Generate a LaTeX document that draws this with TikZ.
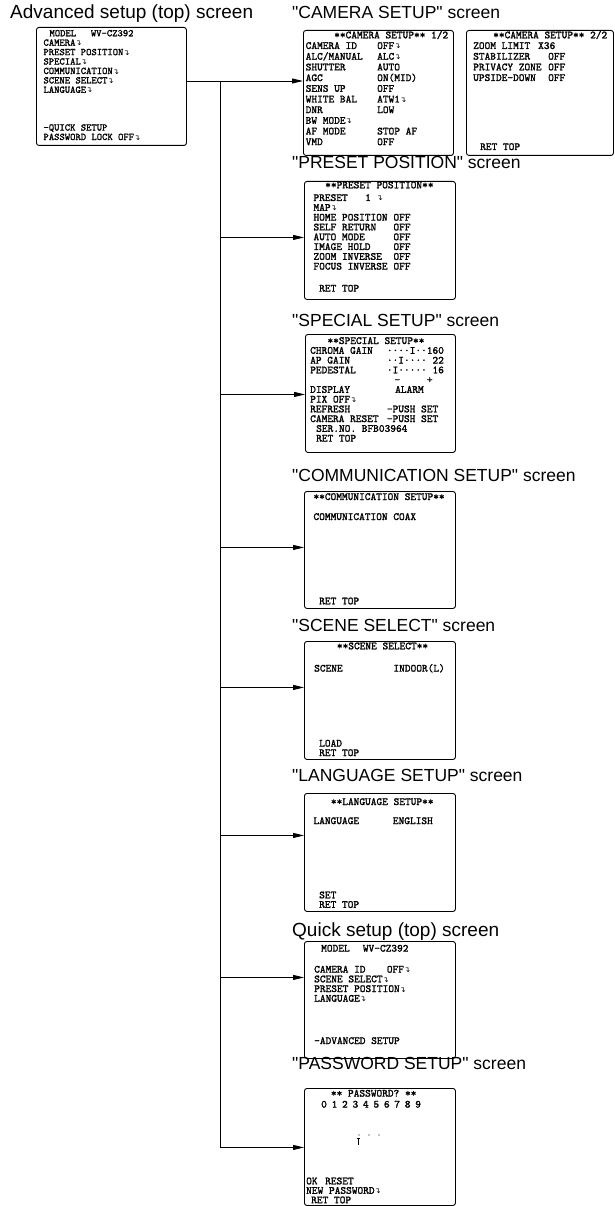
\documentclass[tikz,border=0pt]{standalone}
\usepackage{fontspec}
\setmainfont{Liberation Sans}[Ligatures=TeXOff]
\newfontfamily\symfont{DejaVu Sans}
\newfontfamily\osdfont{Latin Modern Mono}[FakeBold=1.6]
\usetikzlibrary{arrows.meta}
\newcommand{\ent}{{\symfont\fontsize{7.5}{7.5}\selectfont ↴}}
\newcommand{\lab}[2]{\makebox[#1pt][l]{#2}}
\newcommand{\osd}[2]{\osdfont\fontsize{#1}{#2}\selectfont}
\newcommand{\rows}[1]{\begin{tabular}[t]{@{}l@{}}#1\end{tabular}}
\begin{document}
\begin{tikzpicture}[x=1pt,y=-1pt,line join=round,>={Triangle[length=11pt,width=5pt]}]
\tikzset{screen/.style={draw,line width=0.9pt,rounded corners=2.5pt,inner sep=0pt,anchor=north west,minimum width=151pt,minimum height=118pt},
  osd/.style={anchor=base west,inner sep=0pt,font=\osd{10.86}{#1}},
  osd/.default=9.75,
  ttl/.style={anchor=base west,inner sep=0pt,font=\fontsize{17.5}{17.5}\selectfont}}
\useasboundingbox (0,0) rectangle (615,1206);
\node[ttl,font=\fontsize{19}{19}\selectfont] (tAdv) at (10,18.3) {Advanced setup (top) screen};
\node[ttl] (tCam) at (292,18.3) {"CAMERA SETUP" screen};
\node[ttl] (tPreset) at (292,168.3) {"PRESET POSITION" screen};
\node[ttl] (tSpecial) at (292,326) {"SPECIAL SETUP" screen};
\node[ttl] (tComm) at (292,481.7) {"COMMUNICATION SETUP" screen};
\node[ttl] (tScene) at (292,631.7) {"SCENE SELECT" screen};
\node[ttl] (tLang) at (292,781.7) {"LANGUAGE SETUP" screen};
\node[ttl,font=\fontsize{19}{19}\selectfont] (tQuick) at (292,936.7) {Quick setup (top) screen};
\node[ttl] (tPwd) at (292,1069) {"PASSWORD SETUP" screen};
\node[screen,minimum width=150pt] (adv) at (36,27) {};
\node[screen,minimum width=150pt,minimum height=125pt] (camA) at (303,30) {};
\node[screen,minimum width=147pt,minimum height=125pt] (camB) at (466,30) {};
\node[screen] (preset) at (304,181) {};
\node[screen,minimum width=150pt] (special) at (305,334) {};
\node[screen,minimum height=117pt] (comm) at (304,491) {};
\node[screen] (scene) at (304,641) {};
\node[screen] (lang) at (304,793) {};
\node[screen,minimum height=117pt] (quick) at (304,941) {};
\node[screen,minimum height=117pt] (pwd) at (304,1088) {};
\node[osd,font=\osd{10.15}{9.43}] (advText) at (43.3,36.3) {\rows{\hspace*{6pt}\lab{41.4}{MODEL}WV-CZ392\\
  CAMERA\ent\\ PRESET POSITION\ent\\ SPECIAL\ent\\ COMMUNICATION\ent\\ SCENE SELECT\ent\\ LANGUAGE\ent\\
  \\ \\ \\ –QUICK SETUP\\ PASSWORD LOCK OFF\ent}};
\node[osd=10.67] (camAText) at (305.5,38.3) {\rows{\hspace*{28.5pt}**CAMERA SETUP** 1/2\\
  \lab{71.5}{CAMERA ID}OFF\ent\\ \lab{71.5}{ALC/MANUAL}ALC\ent\\ \lab{71.5}{SHUTTER}AUTO\\
  \lab{71.5}{AGC}ON(MID)\\ \lab{71.5}{SENS UP}OFF\\ \lab{71.5}{WHITE BAL}ATW1\ent\\
  \lab{71.5}{DNR}LOW\\ BW MODE\ent\\ \lab{71.5}{AF MODE}STOP AF\\ \lab{71.5}{VMD}OFF}};
\node[osd=10.67] (camBText) at (473,38.3) {\rows{\hspace*{20pt}**CAMERA SETUP** 2/2\\
  \lab{65}{ZOOM LIMIT}X36\\ \lab{75}{STABILIZER}OFF\\ \lab{75}{PRIVACY ZONE}OFF\\ \lab{75}{UPSIDE-DOWN}OFF}};
\node[osd] (camBRet) at (480,150) {RET TOP};
\node[osd=9.8] (presetText) at (313.3,188.3) {\rows{\hspace*{11.7pt}**PRESET POSITION**\\[2.9pt]
  \lab{51.7}{PRESET}1 \ent\\ MAP\ent\\ \lab{80}{HOME POSITION}OFF\\ \lab{80}{SELF RETURN}OFF\\
  \lab{80}{AUTO MODE}OFF\\ \lab{80}{IMAGE HOLD}OFF\\ \lab{80}{ZOOM INVERSE}OFF\\ \lab{80}{FOCUS INVERSE}OFF}};
\node[osd] (presetRet) at (319,291.6) {RET TOP};
\node[osd=9.76] (specialText) at (310,344) {\rows{\hspace*{17.3pt}**SPECIAL SETUP**\\
  \lab{76.7}{CHROMA GAIN}····I··160\\ \lab{76.7}{AP GAIN}··I···· 22\\ \lab{76.7}{PEDESTAL}·I····· 16\\
  \hspace*{84.3pt}\lab{32.4}{–}+\\ \lab{85}{DISPLAY}ALARM\\ PIX OFF\ent\\
  \lab{76.7}{REFRESH}–PUSH SET\\ \lab{76.7}{CAMERA RESET}–PUSH SET\\
  \hspace*{6pt}SER.NO. BFB03964\\ \hspace*{6pt}RET TOP}};
\node[osd=10] (commText) at (313.3,500) {\rows{**COMMUNICATION SETUP**\\ \\ COMMUNICATION COAX}};
\node[osd] (commRet) at (319,604.3) {RET TOP};
\node[osd=11.15] (sceneText) at (314,649.3) {\rows{\hspace*{22.7pt}**SCENE SELECT**\\ \\ \lab{79.3}{SCENE}INDOOR(L)}};
\node[osd=9] (sceneLoad) at (319,746.6) {\rows{LOAD\\ RET TOP}};
\node[osd=9.5] (langText) at (313.3,805) {\rows{\hspace*{17.4pt}**LANGUAGE SETUP**\\ \\ \lab{79.4}{LANGUAGE}ENGLISH}};
\node[osd=9.3] (langSet) at (319,898.3) {\rows{SET\\ RET TOP}};
\node[osd=9.7] (quickText) at (314,951.6) {\rows{\hspace*{7pt}\lab{41.7}{MODEL}WV-CZ392\\[1.6pt] \\
  \lab{72.7}{CAMERA ID}OFF\ent\\ SCENE SELECT\ent\\ PRESET POSITION\ent\\ LANGUAGE\ent}};
\node[osd] (quickAdv) at (314,1044) {–ADVANCED SETUP};
\node[osd] (pwdTitle) at (330.7,1096.6) {** PASSWORD? **};
\foreach \d in {0,...,9}
  \node[osd] (digit\d) at (321+\d*10.45,1107.6) {\d};
\foreach \x in {359,369,379}
  \fill (\x,1135) circle (0.6);
\draw[line width=0.7pt] (358,1138.5) -- (358,1145) (356.5,1138.5) -- (359.5,1138.5);
\node[osd=9] (pwdText) at (306,1184.3) {\rows{\lab{19}{OK}RESET\\ NEW PASSWORD\ent\\ \hspace*{5pt}RET TOP}};
\coordinate (top) at (220,81);
\draw[->,line width=0.8pt] (adv.east |- top) -- (camA.west |- top);
\draw[line width=0.8pt] (top) -- ([yshift=-0.5pt]pwd.west -| top);
\foreach \s/\dy in {preset/3,special/-1,comm/2.5,scene/13,lang/17,quick/22.5,pwd/-0.5}
  \draw[->,line width=0.8pt] ([yshift=\dy pt]\s.west -| top) -- ([yshift=\dy pt]\s.west);
\end{tikzpicture}
\end{document}
